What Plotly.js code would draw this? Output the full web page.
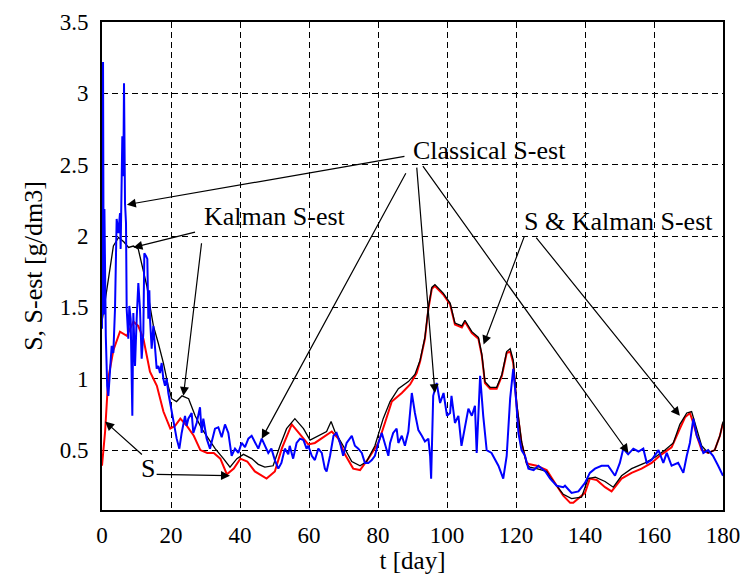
<!DOCTYPE html>
<html>
<head>
<meta charset="utf-8">
<script src="https://cdn.plot.ly/plotly-3.0.1.min.js"></script>
<style>html,body{margin:0;padding:0;background:#fff;}#chart{width:748px;height:574px;}</style>
</head>
<body>
<div id="chart"></div>
<script>
// S (true substrate) - red
const tS = [0, 0.9, 1.8, 3.3, 5.2, 7.2, 9.1, 10.5, 12, 13.9,
  15.9, 17.8, 19.8, 21.2, 22.7, 24.6, 26.6, 28.5, 30.5, 32.4,
  34.3, 36.2, 38.2, 40.1, 42.1, 44.3, 47.7, 50.1, 52.1, 55,
  57.4, 59.8, 61.7, 64.6, 66.6, 68.5, 70.4, 72.8, 74.8, 77.2,
  80.1, 82, 84, 86.9, 89.3, 91.2, 92.2, 93.6, 94.6, 95.6,
  96.5, 98.9, 100.9, 102.3, 104.3, 105.2, 107.2, 109.1, 110.1, 111,
  112.5, 114.4, 115.9, 117.3, 118.3, 119.2, 120.2, 121.6, 123.1, 124,
  126, 128.9, 129.9, 131.8, 133.7, 135.7, 136.6, 138.1, 140, 141.4,
  143.4, 145.8, 147.7, 150.6, 153.5, 156.4, 159.3, 162.2, 165.1, 167.5,
  169, 170.4, 171.4, 172.4, 173.8, 175.7, 177.6, 179.1, 180];
const S = [0.39, 0.63, 1.0, 1.2, 1.33, 1.30, 1.40, 1.37, 1.28, 1.05,
  0.95, 0.77, 0.65, 0.67, 0.72, 0.67, 0.6, 0.5, 0.48, 0.48,
  0.44, 0.33, 0.37, 0.44, 0.42, 0.35, 0.30, 0.35, 0.51, 0.68,
  0.61, 0.54, 0.55, 0.6, 0.63, 0.58, 0.47, 0.37, 0.36, 0.44,
  0.55, 0.69, 0.84, 0.9, 0.96, 1.04, 1.12, 1.28, 1.49, 1.63,
  1.65, 1.59, 1.52, 1.38, 1.36, 1.40, 1.32, 1.28, 1.16, 0.97,
  0.93, 0.93, 1.02, 1.18, 1.19, 1.11, 0.81, 0.55, 0.41, 0.40,
  0.39, 0.36, 0.32, 0.25, 0.18, 0.13, 0.13, 0.16, 0.2, 0.30,
  0.29, 0.24, 0.21, 0.30, 0.34, 0.37, 0.41, 0.47, 0.52, 0.65,
  0.73, 0.76, 0.69, 0.6, 0.5, 0.48, 0.5, 0.6, 0.69];

// Kalman S-est - black
const tK = [0, 0.9, 1.8, 3.3, 4.8, 6.3, 7.7, 9.1, 10.5, 11.6,
  13, 13.9, 14.9, 16.3, 17.8, 19.2, 20.2, 21.6, 23.2, 25.1,
  27, 28.9, 30.9, 32.8, 35.2, 37.1, 39.1, 41, 43.4, 45.3,
  47.2, 49.6, 51.6, 53.5, 55.9, 58.4, 60.3, 62.7, 65.1, 66.4,
  67.5, 69.9, 72.4, 74.8, 76.7, 79.1, 81.5, 83.5, 85.9, 88.8,
  90.7, 92.2, 93.6, 94.6, 95.6, 96.5, 98.9, 100.9, 102.3, 104.3,
  105.2, 107.2, 109.1, 110.1, 111, 112.5, 114.4, 115.9, 117.3, 118.3,
  119.2, 120.2, 121.6, 123.1, 124, 126, 128.9, 129.9, 131.8, 133.7,
  136.1, 139, 140.9, 143, 145.8, 148.2, 150.6, 153.5, 157.4, 160.3,
  163.2, 165.6, 167.5, 169.5, 170.9, 172.4, 173.8, 175.7, 177.6, 179.1,
  180];
const K = [1.4, 1.55, 1.70, 1.93, 1.99, 1.96, 1.92, 1.93, 1.91, 1.79,
  1.65, 1.51, 1.37, 1.25, 1.11, 0.95, 0.86, 0.84, 0.88, 0.86,
  0.74, 0.65, 0.58, 0.51, 0.44, 0.38, 0.44, 0.47, 0.44, 0.40,
  0.38, 0.39, 0.53, 0.65, 0.72, 0.65, 0.57, 0.60, 0.63, 0.70,
  0.63, 0.53, 0.42, 0.39, 0.42, 0.53, 0.72, 0.84, 0.93, 0.98,
  1.03, 1.13, 1.29, 1.50, 1.64, 1.66, 1.60, 1.53, 1.39, 1.37,
  1.41, 1.33, 1.29, 1.17, 0.98, 0.94, 0.94, 1.03, 1.19, 1.21,
  1.13, 0.83, 0.56, 0.40, 0.38, 0.37, 0.35, 0.31, 0.25, 0.19,
  0.16, 0.17, 0.30, 0.31, 0.28, 0.24, 0.32, 0.37, 0.41, 0.45,
  0.50, 0.55, 0.68, 0.76, 0.77, 0.65, 0.53, 0.48, 0.50, 0.60,
  0.70];

// Classical S-est - blue
const tC = [0, 0.3, 0.5, 0.7, 1.1, 1.5, 1.84, 2.32, 2.8, 3.29,
  3.77, 4.25, 4.73, 5.22, 5.41, 5.89, 6.18, 6.38, 6.67, 6.96,
  7.15, 7.63, 7.92, 8.31, 8.79, 9.08, 9.57, 10.05, 10.53, 11.01,
  11.5, 11.98, 12.27, 12.75, 13.14, 13.43, 13.72, 13.91, 14.4, 14.88,
  15.36, 15.85, 16.33, 16.81, 17.29, 17.78, 18.26, 18.74, 19.23, 19.71,
  20.19, 20.68, 21.64, 22.42, 23.09, 24.06, 24.54, 25.02, 25.99, 26.47,
  27.44, 28.41, 28.89, 29.37, 30.34, 31.3, 32.27, 32.75, 33.72, 34.69,
  35.65, 36.62, 37.58, 38.55, 39.52, 40.48, 41.45, 42.42, 43.38, 44.35,
  45.3, 46.3, 47.2, 48.2, 49.1, 50.1, 51.1, 52.0, 53.0, 54.0,
  54.4, 55.4, 56.4, 57.4, 58.4, 59.3, 59.8, 60.8, 61.7, 62.7,
  63.7, 64.6, 65.1, 66.1, 67.1, 68.0, 69.0, 69.9, 70.9, 72.4,
  73.3, 74.3, 75.3, 76.2, 77.2, 78.2, 79.1, 80.1, 81.1, 82.0,
  83.0, 83.5, 84.4, 85.4, 85.9, 86.9, 87.8, 88.8, 89.8, 90.7,
  91.7, 92.7, 93.6, 94.6, 95.1, 95.4, 96.0, 97.0, 98.0, 99.0,
  100.0, 100.9, 101.3, 102.3, 103.3, 104.2, 105.2, 106.2, 107.2, 108.1,
  108.6, 109.6, 110.5, 111.5, 112.9, 113.9, 114.9, 116.3, 117.3, 118.3,
  118.8, 119.2, 120.0, 120.7, 121.6, 122.6, 123.6, 125.1, 126.5, 127.5,
  128.5, 129.9, 131.8, 133.7, 134.2, 136.1, 138.1, 140.0, 141.4, 142.9,
  144.8, 146.7, 148.7, 150.1, 151.1, 152.5, 154.0, 155.5, 156.9, 157.9,
  159.3, 161.3, 162.7, 163.7, 165.1, 167.0, 168.5, 169.5, 170.4, 171.4,
  172.4, 173.3, 174.3, 175.7, 177.1, 178.6, 180];
const C = [1.35, 3.22, 1.45, 2.19, 1.3, 0.95, 0.88, 1.04, 1.23, 1.18,
  1.49, 2.12, 2.02, 2.16, 1.91, 2.70, 2.42, 3.07, 2.23, 2.09,
  1.49, 1.28, 1.51, 1.42, 0.74, 1.46, 1.09, 1.42, 1.67, 1.49,
  1.14, 1.32, 1.88, 1.86, 1.84, 1.42, 1.62, 1.42, 1.21, 1.37,
  1.18, 1.07, 1.09, 1.04, 1.11, 1.0, 0.95, 1.0, 0.90, 0.83,
  0.76, 0.72, 0.58, 0.51, 0.62, 0.74, 0.67, 0.72, 0.76, 0.62,
  0.69, 0.80, 0.62, 0.72, 0.58, 0.51, 0.60, 0.65, 0.66, 0.59,
  0.68, 0.62, 0.46, 0.51, 0.48, 0.55, 0.52, 0.58, 0.60, 0.55,
  0.51, 0.58, 0.53, 0.48, 0.51, 0.43, 0.37, 0.41, 0.51, 0.47,
  0.53, 0.44, 0.55, 0.58, 0.57, 0.51, 0.53, 0.46, 0.43, 0.51,
  0.48, 0.37, 0.35, 0.46, 0.60, 0.62, 0.55, 0.46, 0.55, 0.60,
  0.53, 0.51, 0.48, 0.41, 0.41, 0.43, 0.46, 0.55, 0.62, 0.55,
  0.46, 0.55, 0.62, 0.65, 0.55, 0.60, 0.53, 0.63, 0.90, 0.76,
  0.64, 0.60, 0.56, 0.58, 0.46, 0.30, 0.88, 0.97, 0.83, 0.90,
  0.74, 0.76, 0.88, 0.69, 0.74, 0.53, 0.65, 0.79, 0.74, 0.81,
  0.48, 1.02, 0.74, 0.50, 0.48, 0.43, 0.39, 0.30, 0.46, 0.86,
  1.0, 1.07, 0.86, 0.62, 0.50, 0.46, 0.37, 0.36, 0.39, 0.37,
  0.35, 0.30, 0.25, 0.24, 0.25, 0.20, 0.21, 0.27, 0.34, 0.37,
  0.39, 0.39, 0.32, 0.41, 0.51, 0.47, 0.51, 0.49, 0.51, 0.41,
  0.43, 0.50, 0.41, 0.48, 0.39, 0.41, 0.34, 0.46, 0.55, 0.72,
  0.60, 0.55, 0.48, 0.50, 0.46, 0.39, 0.32];

const xTicks = [0, 20, 40, 60, 80, 100, 120, 140, 160, 180];
const yTicks = [0.5, 1, 1.5, 2, 2.5, 3, 3.5];
const yTickText = ['0.5', '1', '1.5', '2', '2.5', '3', '3.5'];

const FONT = 'Liberation Serif, Times New Roman, serif';

const traces = [
  {x: tS, y: S, type: 'scatter', mode: 'lines', line: {color: '#ff0000', width: 2}, name: 'S'},
  {x: tK, y: K, type: 'scatter', mode: 'lines', line: {color: '#000000', width: 1.3}, name: 'Kalman S-est'},
  {x: tC, y: C, type: 'scatter', mode: 'lines', line: {color: '#0000ff', width: 2}, name: 'Classical S-est'}
];

function lbl(text, x, y) {
  return {text: text, x: x, y: y, xref: 'x', yref: 'y', showarrow: false,
    font: {family: FONT, size: 26, color: '#000'}, xanchor: 'center', yanchor: 'middle'};
}
function arr(ax, ay, x, y) {
  return {text: '', x: x, y: y, ax: ax, ay: ay, xref: 'x', yref: 'y', axref: 'x', ayref: 'y',
    showarrow: true, arrowhead: 2, arrowsize: 1.5, arrowwidth: 1.2, arrowcolor: '#000', standoff: 0, startstandoff: 0};
}

const annotations = [
  lbl('Classical S-est', 112.2, 2.6),
  arr(88.1, 2.56, 7.2, 2.22),
  arr(88.3, 2.45, 46.3, 0.58),
  arr(91.2, 2.49, 96.5, 0.90),
  arr(92.7, 2.50, 152.6, 0.48),
  lbl('Kalman S-est', 50.1, 2.14),
  arr(27.4, 2.03, 9.1, 1.92),
  arr(28.9, 1.96, 23.6, 0.88),
  lbl('S & Kalman S-est', 149.6, 2.10),
  arr(122.6, 2.01, 110.6, 1.24),
  arr(125.5, 2.00, 167.5, 0.74),
  lbl('S', 13.3, 0.37),
  arr(12.0, 0.46, 0.9, 0.70),
  arr(15.4, 0.33, 37.1, 0.32)
];

const layout = {
  width: 748, height: 574,
  margin: {l: 102, r: 25, t: 22, b: 64, pad: 0},
  paper_bgcolor: '#fff', plot_bgcolor: '#fff',
  showlegend: false,
  font: {family: FONT, size: 23, color: '#000'},
  xaxis: {
    range: [0, 180], tickvals: xTicks, ticks: '', ticklabelstandoff: 3,
    showgrid: true, gridcolor: '#000', gridwidth: 1, griddash: '6px,4px',
    showline: true, linecolor: '#000', linewidth: 2, mirror: true, zeroline: false,
    tickfont: {family: FONT, size: 23, color: '#000'},
    title: {text: 't [day]', font: {family: FONT, size: 25, color: '#000'}, standoff: 3}
  },
  yaxis: {
    range: [0.08, 3.5], tickvals: yTicks, ticktext: yTickText, ticks: '', ticklabelstandoff: 7,
    showgrid: true, gridcolor: '#000', gridwidth: 1, griddash: '6px,4px',
    showline: true, linecolor: '#000', linewidth: 2, mirror: true, zeroline: false,
    tickfont: {family: FONT, size: 23, color: '#000'},
    title: {text: 'S, S-est [g/dm3]', font: {family: FONT, size: 26, color: '#000'}, standoff: 10}
  },
  annotations: annotations
};

Plotly.newPlot('chart', traces, layout, {staticPlot: true, displayModeBar: false});
</script>
</body>
</html>
